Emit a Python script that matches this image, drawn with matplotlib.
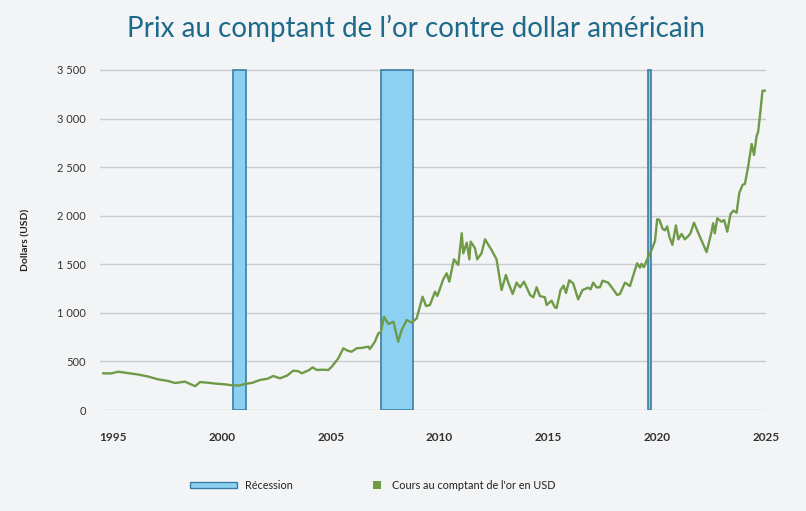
"""
Prix au comptant de l'or contre dollar américain, avec les récessions
américaines en bandes verticales.
"""

import matplotlib
matplotlib.use("Agg")
import matplotlib.pyplot as plt
from matplotlib.patches import Rectangle

# --- Données ---
years = [
    1994.55, 1994.9, 1995.24, 1995.6, 1996.16, 1996.6, 1997.08, 1997.5,
    1997.85, 1998.3, 1998.77, 1999.0, 1999.4, 1999.69, 2000.1, 2000.45,
    2000.8, 2001.06, 2001.4, 2001.75, 2002.1, 2002.36, 2002.67, 2003.0,
    2003.28, 2003.5, 2003.67, 2004.0, 2004.17, 2004.36, 2004.6, 2004.89,
    2005.05, 2005.35, 2005.58, 2005.77, 2005.96, 2006.19, 2006.45, 2006.73,
    2006.8, 2007.03, 2007.19, 2007.3, 2007.45, 2007.65, 2007.88, 2008.1,
    2008.26, 2008.49, 2008.72, 2008.95, 2009.22, 2009.38, 2009.56, 2009.79,
    2009.9, 2010.17, 2010.33, 2010.45, 2010.66, 2010.86, 2011.02, 2011.09,
    2011.25, 2011.37, 2011.43, 2011.63, 2011.73, 2011.93, 2012.09, 2012.39,
    2012.62, 2012.85, 2013.05, 2013.16, 2013.36, 2013.54, 2013.7, 2013.88,
    2014.16, 2014.31, 2014.46, 2014.61, 2014.84, 2014.92, 2015.15, 2015.3,
    2015.38, 2015.56, 2015.7, 2015.81, 2015.96, 2016.14, 2016.37, 2016.57,
    2016.83, 2016.94, 2017.06, 2017.21, 2017.37, 2017.49, 2017.75, 2017.98,
    2018.16, 2018.29, 2018.52, 2018.75, 2018.93, 2019.08, 2019.21, 2019.28,
    2019.39, 2019.59, 2019.74, 2019.9, 2020.0, 2020.1, 2020.25, 2020.35,
    2020.46, 2020.56, 2020.7, 2020.86, 2020.97, 2021.12, 2021.27, 2021.43,
    2021.53, 2021.69, 2021.93, 2022.27, 2022.5, 2022.57, 2022.65, 2022.76,
    2022.96, 2023.08, 2023.22, 2023.37, 2023.5, 2023.65, 2023.77, 2023.92,
    2024.03, 2024.18, 2024.34, 2024.45, 2024.57, 2024.64, 2024.75, 2024.84,
    2024.95,
]
gold_usd = [
    378, 376, 394, 383, 365, 345, 315, 300,
    278, 292, 245, 288, 280, 272, 265, 255,
    252, 268, 280, 309, 322, 350, 326, 355,
    405, 400, 378, 410, 439, 412, 415, 412,
    446, 532, 635, 611, 600, 635, 640, 652,
    628, 703, 790, 800, 960, 885, 909, 703,
    823, 926, 899, 943, 1166, 1070, 1081, 1218,
    1173, 1345, 1407, 1321, 1551, 1493, 1819, 1613,
    1722, 1551, 1733, 1665, 1551, 1613, 1757, 1647,
    1551, 1235, 1390, 1311, 1194, 1311, 1263, 1321,
    1184, 1160, 1263, 1173, 1160, 1081, 1125, 1057,
    1050, 1235, 1280, 1205, 1335, 1304, 1139, 1235,
    1259, 1242, 1311, 1263, 1263, 1331, 1311, 1242,
    1184, 1194, 1311, 1276, 1407, 1510, 1465, 1505,
    1470, 1578, 1645, 1740, 1963, 1958, 1865, 1850,
    1890, 1784, 1700, 1900, 1757, 1812, 1757, 1790,
    1819, 1928, 1801, 1625, 1836, 1922, 1819, 1973,
    1938, 1956, 1836, 2018, 2052, 2031, 2231, 2316,
    2327, 2505, 2738, 2625, 2821, 2865, 3088, 3287,
    3287,
]

recession_start = [2000.50, 2007.32, 2019.59]
recession_end = [2001.12, 2008.76, 2019.70]
recession_top = 3500

x_ticks = [1995, 2000, 2005, 2010, 2015, 2020, 2025]
y_ticks = [0, 500, 1000, 1500, 2000, 2500, 3000, 3500]
y_labels = ["0", "500", "1 000", "1 500", "2 000", "2 500", "3 000", "3 500"]

BG = "#F3F4F6"
GREEN = "#6F9A48"
BAR_FILL = "#8DD1F2"
BAR_EDGE = "#3A7FA2"
TITLE_COLOR = "#1E6A8A"

plt.rcParams["font.family"] = ["Lato", "DejaVu Sans"]


def main():
    fig = plt.figure(figsize=(8.06, 5.11), dpi=100, facecolor=BG)
    ax = fig.add_axes([100 / 806, 101 / 511, 666 / 806, 341 / 511])
    ax.set_facecolor(BG)

    for start, end in zip(recession_start, recession_end):
        ax.bar(start, recession_top, width=end - start, align="edge",
               color=BAR_FILL, edgecolor=BAR_EDGE, linewidth=1.2, zorder=2)

    ax.plot(years, gold_usd, color=GREEN, linewidth=1.7, zorder=3)

    ax.set_xlim(1994.40, 2025.0)
    ax.set_ylim(0, 3510)
    ax.set_xticks(x_ticks)
    ax.set_xticklabels([str(y) for y in x_ticks], fontsize=8.5,
                       fontweight="bold", color="#333333")
    ax.set_yticks(y_ticks)
    ax.set_yticklabels(y_labels, fontsize=8, color="#333333")
    ax.tick_params(axis="x", length=0, pad=16)
    ax.tick_params(axis="y", length=0, pad=10)
    ax.grid(axis="y", color="#C9CBCE", linewidth=1.0, zorder=1)
    ax.set_axisbelow(True)
    for spine in ax.spines.values():
        spine.set_visible(False)

    # le 2025 dépasse un peu la grille
    for lbl in ax.get_xticklabels():
        lbl.set_clip_on(False)

    ax.set_ylabel("Dollars (USD)", fontsize=7.5, fontweight="bold",
                  color="#222222", labelpad=0)
    ax.yaxis.set_label_coords(-70 / 666, 0.5)

    fig.text(416 / 806, 1 - 28 / 511, "Prix au comptant de l’or contre dollar américain",
             ha="center", va="center", fontsize=20, color=TITLE_COLOR)

    # Légende dessinée à la main
    fig.add_artist(Rectangle((190 / 806, (511 - 488) / 511), 47 / 806, 6 / 511,
                             transform=fig.transFigure, facecolor=BAR_FILL,
                             edgecolor=BAR_EDGE, linewidth=1))
    fig.text(245 / 806, 1 - 485 / 511, "Récession", ha="left", va="center",
             fontsize=7.8, color="#222222")
    fig.add_artist(Rectangle((373 / 806, (511 - 489) / 511), 8 / 806, 8 / 511,
                             transform=fig.transFigure, facecolor=GREEN,
                             edgecolor="none"))
    fig.text(392 / 806, 1 - 485 / 511, "Cours au comptant de l'or en USD",
             ha="left", va="center", fontsize=7.8, color="#222222")

    fig.savefig("out.png", dpi=100, facecolor=BG)


if __name__ == "__main__":
    main()
